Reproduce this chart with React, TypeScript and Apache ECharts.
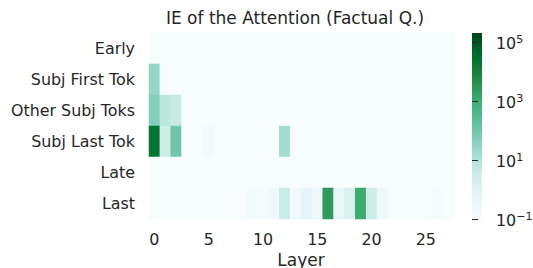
import React, { useEffect, useRef } from "react";
import * as echarts from "echarts";

const layers = [
  "0", "1", "2", "3", "4", "5", "6", "7", "8", "9", "10", "11", "12", "13",
  "14", "15", "16", "17", "18", "19", "20", "21", "22", "23", "24", "25", "26", "27",
];
const rows = ["Early", "Subj First Tok", "Other Subj Toks", "Subj Last Tok", "Late", "Last"];

// Indirect effect per layer (values below 0.1 render as the lowest colour)
const early = [0.05, 0.05, 0.05, 0.05, 0.05, 0.05, 0.05, 0.05, 0.05, 0.05, 0.05, 0.05, 0.05, 0.05, 0.05, 0.05, 0.05, 0.05, 0.05, 0.05, 0.05, 0.05, 0.05, 0.05, 0.05, 0.05, 0.05, 0.05];
const subjFirst = [28, 0.05, 0.05, 0.05, 0.05, 0.05, 0.05, 0.05, 0.05, 0.05, 0.05, 0.05, 0.05, 0.05, 0.05, 0.05, 0.05, 0.05, 0.05, 0.05, 0.05, 0.05, 0.05, 0.05, 0.05, 0.05, 0.05, 0.05];
const otherSubj = [49, 6.5, 4.4, 0.05, 0.05, 0.05, 0.05, 0.05, 0.05, 0.05, 0.05, 0.05, 0.05, 0.05, 0.05, 0.05, 0.05, 0.05, 0.05, 0.05, 0.05, 0.05, 0.05, 0.05, 0.05, 0.05, 0.05, 0.05];
const subjLast = [22000, 3.2, 105, 0.05, 0.05, 0.18, 0.05, 0.05, 0.05, 0.05, 0.05, 0.05, 16, 0.05, 0.05, 0.05, 0.05, 0.05, 0.05, 0.05, 0.05, 0.05, 0.05, 0.05, 0.05, 0.05, 0.05, 0.05];
const late = [0.05, 0.05, 0.05, 0.05, 0.05, 0.05, 0.05, 0.05, 0.05, 0.05, 0.05, 0.05, 0.05, 0.05, 0.05, 0.05, 0.05, 0.05, 0.05, 0.05, 0.05, 0.05, 0.05, 0.05, 0.05, 0.05, 0.05, 0.05];
const last = [0.05, 0.05, 0.05, 0.05, 0.05, 0.05, 0.05, 0.05, 0.05, 0.18, 0.13, 0.24, 3.8, 0.19, 0.6, 0.24, 2450, 0.43, 1.4, 1100, 3.2, 0.24, 0.05, 0.05, 0.05, 0.05, 0.13, 0.05];

const rowValues = [early, subjFirst, otherSubj, subjLast, late, last];

const colorTicks = [-1, 1, 3, 5];
const LOG_MIN = -1;
const LOG_MAX = 5.315;
const bugn = ["#f7fcfd", "#e5f5f9", "#ccece6", "#99d8c9", "#66c2a4", "#41ae76", "#238b45", "#006d2c", "#00441b"];

const FONT = "DejaVu Sans";
const TXT = "#262626";
const TICK_FS = 15.9;
const TITLE_FS = 17;

export default function App() {
  const ref = useRef<HTMLDivElement>(null);

  useEffect(() => {
    document.body.style.margin = "0";
    const chart = echarts.init(ref.current!, null, { renderer: "svg" });

    const data: number[][] = [];
    rowValues.forEach((vals, r) => {
      vals.forEach((v, c) => {
        const lv = Math.min(LOG_MAX, Math.max(LOG_MIN, Math.log10(v)));
        data.push([c, r, lv]);
      });
    });

    const gradient = new echarts.graphic.LinearGradient(
      0, 1, 0, 0,
      bugn.map((c, i) => ({ offset: i / (bugn.length - 1), color: c }))
    );

    const sup = (v: number) => (v < 0 ? "\u2212" + -v : String(v));

    chart.setOption({
      animation: false,
      backgroundColor: "#ffffff",
      textStyle: { fontFamily: FONT, color: TXT },
      graphic: [
        {
          type: "text",
          x: 295,
          y: 9,
          style: {
            text: "IE of the Attention (Factual Q.)",
            fontSize: TITLE_FS,
            fontFamily: FONT,
            fill: TXT,
            textAlign: "center",
            textVerticalAlign: "top",
          },
        },
      ],
      grid: [
        { left: 149, top: 33, width: 304, height: 186, containLabel: false, outerBoundsMode: "none" },
        {
          left: 472, top: 33, width: 10, height: 186, outerBoundsMode: "none",
          show: true, backgroundColor: gradient, borderWidth: 0,
        },
      ],
      xAxis: [
        {
          type: "category",
          gridIndex: 0,
          data: layers,
          axisLine: { show: false },
          axisTick: { show: false },
          splitLine: { show: false },
          axisLabel: {
            interval: (idx: number) => idx % 5 === 0,
            fontSize: TICK_FS,
            color: TXT,
            fontFamily: FONT,
            margin: 12,
          },
          name: "Layer",
          nameLocation: "middle",
          nameGap: 31,
          nameTextStyle: { fontSize: TITLE_FS, color: TXT, fontFamily: FONT },
        },
        { type: "value", gridIndex: 1, show: false, min: 0, max: 1 },
      ],
      yAxis: [
        {
          type: "category",
          gridIndex: 0,
          data: rows,
          inverse: true,
          axisLine: { show: false },
          axisTick: { show: false },
          splitLine: { show: false },
          axisLabel: { fontSize: TICK_FS, color: TXT, fontFamily: FONT, margin: 14 },
        },
        {
          type: "value",
          gridIndex: 1,
          position: "right",
          min: LOG_MIN,
          max: LOG_MAX,
          interval: 2,
          axisLine: { show: false },
          splitLine: { show: false },
          axisTick: { show: true, length: 6, lineStyle: { color: TXT, width: 1 } },
          axisLabel: {
            showMaxLabel: false,
            margin: 14,
            formatter: (v: number) =>
              colorTicks.includes(Math.round(v)) ? `{b|10}{s|${sup(Math.round(v))}}` : "",
            rich: {
              b: { fontSize: TICK_FS, fontFamily: FONT, color: TXT, lineHeight: 16, padding: [3, 0, 0, 0] },
              s: { fontSize: 11, fontFamily: FONT, color: TXT, lineHeight: 11, verticalAlign: "top" },
            },
          },
        },
      ],
      visualMap: {
        type: "continuous",
        show: false,
        min: LOG_MIN,
        max: LOG_MAX,
        dimension: 2,
        seriesIndex: 0,
        inRange: { color: bugn },
      },
      series: [
        {
          type: "heatmap",
          xAxisIndex: 0,
          yAxisIndex: 0,
          data,
          itemStyle: { borderWidth: 0 },
          emphasis: { disabled: true },
        },
      ],
    });

    return () => chart.dispose();
  }, []);

  return <div ref={ref} style={{ width: 533, height: 268 }} />;
}
